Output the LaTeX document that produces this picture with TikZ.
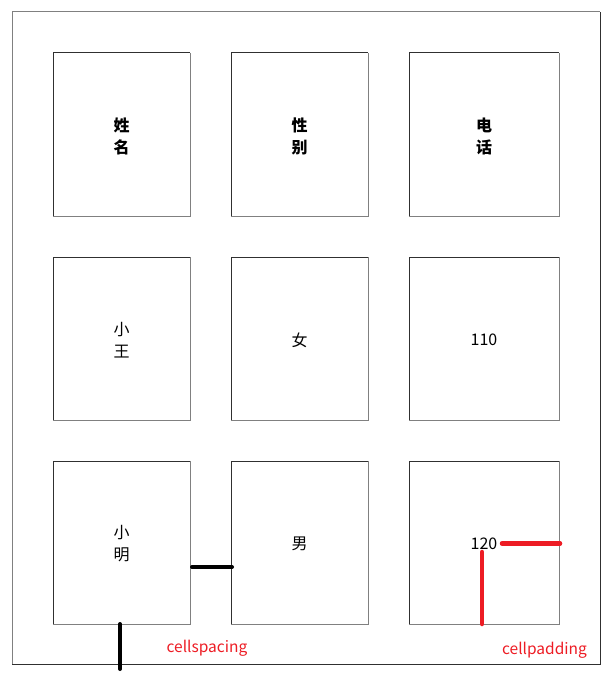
\documentclass[tikz,border=0pt]{standalone}
\usepackage{fontspec}
\setmainfont{Noto Sans CJK SC}
\definecolor{bgrey}{HTML}{808080}
\definecolor{bdark}{HTML}{303030}
\definecolor{mred}{HTML}{ED1C24}
\begin{document}
\begin{tikzpicture}[x=1pt,y=-1pt,
  cell/.style={inner sep=0pt,align=center,font=\fontsize{16}{22}\selectfont},
  hcell/.style={cell,font=\fontsize{16}{22}\selectfont\bfseries},
  barline/.style={line width=4pt,line cap=round},
  lab/.style={text=mred,font=\fontsize{15.5}{18}\selectfont,inner sep=0pt}]
\useasboundingbox (0,0) rectangle (614,676);
% outer table border
\coordinate (otl) at (12,12);
\coordinate (obr) at (600,664);
\draw[bgrey,line width=1pt] (otl |- obr) -- (otl) -- (otl -| obr);
\draw[bdark,line width=1pt] (otl -| obr) -- (obr) -- (otl |- obr);
% cells
\foreach \r/\yt/\yb in {1/53/216,2/257/420,3/461/624}{
  \foreach \c/\xl/\xr in {1/53/190,2/231/368,3/409/559}{
    \coordinate (tl\r\c) at (\xl,\yt);
    \coordinate (br\r\c) at (\xr,\yb);
    \draw[bdark,line width=1pt] (tl\r\c |- br\r\c) -- (tl\r\c) -- (tl\r\c -| br\r\c);
    \draw[bgrey,line width=1pt] (tl\r\c -| br\r\c) -- (br\r\c) -- (tl\r\c |- br\r\c);
  }
}
% texts
\node[hcell] (h1) at (121.5,136) {姓\\名};
\node[hcell] (h2) at (299.5,136) {性\\别};
\node[hcell] (h3) at (484,136) {电\\话};
\node[cell] (a1) at (121.5,340) {小\\王};
\node[cell] (a2) at (299.5,340) {女};
\node[cell] (a3) at (484,340) {110};
\node[cell] (b1) at (121.5,544) {小\\明};
\node[cell] (b2) at (299.5,544) {男};
\node[cell] (b3) at (484,544) {120};
% cellspacing marks
\draw[barline,black] (192,567) -- (232,567);
\draw[barline,black] (120,624) -- (120,669);
% cellpadding marks
\draw[barline,mred,line width=4.5pt] (502,543.5) -- (560,543.5);
\draw[barline,mred,line width=4.5pt] (482,552) -- (482,624);
\node[lab] (ls) at (207,648) {cellspacing};
\node[lab] (lp) at (544.5,650) {cellpadding};
\end{tikzpicture}
\end{document}
